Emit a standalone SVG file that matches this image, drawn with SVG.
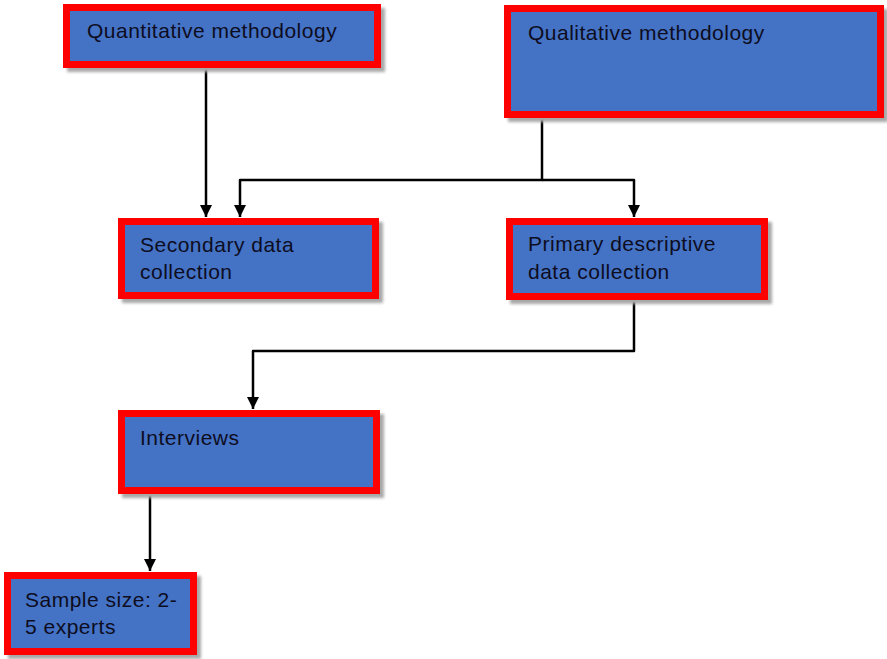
<svg xmlns="http://www.w3.org/2000/svg" width="887" height="659" viewBox="0 0 887 659">
<style>
.box{fill:#4472C4;stroke:#FF0000;stroke-width:7;}
.sh{fill:#a8a8a8;filter:url(#blur);}
.lbl{font-family:"Liberation Sans",Arial,sans-serif;font-size:21px;letter-spacing:0.5px;fill:#0d0d1f;}
.conn{fill:none;stroke:#000;stroke-width:2.5;stroke-linejoin:round;}
</style>
<defs>
<filter id="blur" x="-10%" y="-10%" width="120%" height="130%"><feGaussianBlur stdDeviation="1.5"/></filter>
<marker id="ad" markerUnits="userSpaceOnUse" markerWidth="14" markerHeight="14" viewBox="0 0 14 14" refX="7" refY="13" orient="0">
<path d="M1,1 L13,1 L7,13 Z" fill="#000"/>
</marker>
</defs>
<g id="connectors">
<path class="conn" d="M206,68 V217" marker-end="url(#ad)"/>
<path class="conn" d="M542,118 V180 H240 V217" marker-end="url(#ad)"/>
<path class="conn" d="M542,180 H634 V217" marker-end="url(#ad)"/>
<path class="conn" d="M634,300 V351 H253 V409" marker-end="url(#ad)"/>
<path class="conn" d="M150,494 V571" marker-end="url(#ad)"/>
</g>
<g id="quantitative">
<rect class="sh" x="67" y="8" width="318" height="64"/>
<rect class="box" x="66.5" y="7.5" width="311" height="57"/>
<text class="lbl" x="87" y="38">Quantitative methodology</text>
</g>
<g id="qualitative">
<rect class="sh" x="508" y="9" width="380" height="113"/>
<rect class="box" x="507.5" y="8.5" width="373" height="106"/>
<text class="lbl" x="528" y="40">Qualitative methodology</text>
</g>
<g id="secondary">
<rect class="sh" x="122" y="222" width="261" height="81"/>
<rect class="box" x="121.5" y="221.5" width="254" height="74"/>
<text class="lbl" x="140" y="252">Secondary data</text>
<text class="lbl" x="140" y="279">collection</text>
</g>
<g id="primary">
<rect class="sh" x="510" y="222" width="262" height="82"/>
<rect class="box" x="509.5" y="221.5" width="255" height="75"/>
<text class="lbl" x="528" y="251">Primary descriptive</text>
<text class="lbl" x="528" y="279">data collection</text>
</g>
<g id="interviews">
<rect class="sh" x="122" y="414" width="262" height="84"/>
<rect class="box" x="121.5" y="413.5" width="255" height="77"/>
<text class="lbl" x="140" y="445">Interviews</text>
</g>
<g id="sample">
<rect class="sh" x="8" y="576" width="193" height="83"/>
<rect class="box" x="7.5" y="575.5" width="186" height="76"/>
<text class="lbl" x="25" y="607">Sample size: 2-</text>
<text class="lbl" x="25" y="634">5 experts</text>
</g>
</svg>
